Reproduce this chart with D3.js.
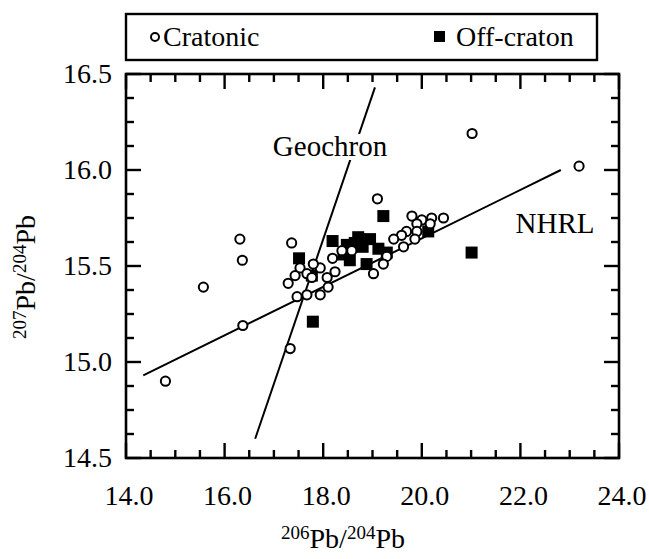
<!DOCTYPE html>
<html>
<head>
<meta charset="utf-8">
<script src="https://cdn.jsdelivr.net/npm/d3@7"></script>
</head>
<body style="margin:0">
<svg id="chart" width="649" height="559" font-family="Liberation Serif"></svg>
<script>
// 206Pb/204Pb vs 207Pb/204Pb for cratonic and off-craton samples
const cratonic206 = [21.02, 23.19, 19.10, 16.31, 16.36, 17.36, 15.57, 16.37, 17.33, 14.80,
  19.80, 20.00, 20.20, 20.44, 19.90, 20.17, 19.90, 19.69, 19.59, 19.43, 19.86, 19.63,
  19.29, 19.22, 19.02, 18.58, 18.38, 18.19, 17.94, 17.80, 17.53, 17.43, 17.67, 17.29,
  18.08, 18.24, 17.47, 17.67, 17.94, 18.10, 17.77];
const cratonic207 = [16.19, 16.02, 15.85, 15.64, 15.53, 15.62, 15.39, 15.19, 15.07, 14.90,
  15.76, 15.74, 15.75, 15.75, 15.72, 15.72, 15.68, 15.68, 15.66, 15.64, 15.64, 15.60,
  15.55, 15.51, 15.46, 15.58, 15.58, 15.54, 15.49, 15.51, 15.49, 15.45, 15.46, 15.41,
  15.44, 15.47, 15.34, 15.35, 15.35, 15.39, 15.44];

const offCraton206 = [17.51, 17.77, 17.79, 18.19, 18.41, 18.48, 18.54, 18.64, 18.71,
  18.80, 18.88, 18.95, 19.12, 19.29, 19.22, 20.13, 21.01];
const offCraton207 = [15.54, 15.45, 15.21, 15.63, 15.56, 15.61, 15.53, 15.62, 15.65,
  15.60, 15.51, 15.64, 15.59, 15.57, 15.76, 15.68, 15.57];

// Reference lines: end points in (206Pb/204Pb, 207Pb/204Pb)
const nhrlLine = [[14.35, 14.93], [22.82, 16.00]];
const geochronLine = [[16.62, 14.60], [19.05, 16.43]];

const xTickLabels = ["14.0", "16.0", "18.0", "20.0", "22.0", "24.0"];
const yTickLabels = ["14.5", "15.0", "15.5", "16.0", "16.5"];
const seriesNames = ["Cratonic", "Off-craton"];

const SERIF = "Liberation Serif";
const svg = d3.select("#chart");
const plotL = 126, plotR = 619, plotT = 74, plotB = 458;

const x = d3.scaleLinear().domain([14, 24]).range([plotL, plotR]);
const y = d3.scaleLinear().domain([14.5, 16.5]).range([plotB, plotT]);

const xMajor = xTickLabels.map(Number);
const yMajor = yTickLabels.map(Number);
const xMinor = d3.range(14.5, 24, 0.5).filter(v => !xMajor.includes(v));
const yMinor = d3.range(14.625, 16.5, 0.125).filter(v => !yMajor.includes(v));

// inward tick marks, mirrored on all four sides
const tickSpecs = [];
xMajor.forEach(v => tickSpecs.push({ axis: "x", v: v, len: 15 }));
xMinor.forEach(v => tickSpecs.push({ axis: "x", v: v, len: 8 }));
yMajor.forEach(v => tickSpecs.push({ axis: "y", v: v, len: 15 }));
yMinor.forEach(v => tickSpecs.push({ axis: "y", v: v, len: 8 }));

const tickG = svg.append("g").attr("stroke", "#000").attr("stroke-width", 2.4);
const xT = tickSpecs.filter(t => t.axis === "x");
const yT = tickSpecs.filter(t => t.axis === "y");
tickG.selectAll("line.xb").data(xT).join("line").attr("class", "xb")
  .attr("x1", t => x(t.v)).attr("x2", t => x(t.v))
  .attr("y1", plotB).attr("y2", t => plotB - t.len);
tickG.selectAll("line.xt").data(xT).join("line").attr("class", "xt")
  .attr("x1", t => x(t.v)).attr("x2", t => x(t.v))
  .attr("y1", plotT).attr("y2", t => plotT + t.len);
tickG.selectAll("line.yl").data(yT).join("line").attr("class", "yl")
  .attr("y1", t => y(t.v)).attr("y2", t => y(t.v))
  .attr("x1", plotL).attr("x2", t => plotL + t.len);
tickG.selectAll("line.yr").data(yT).join("line").attr("class", "yr")
  .attr("y1", t => y(t.v)).attr("y2", t => y(t.v))
  .attr("x1", plotR).attr("x2", t => plotR - t.len);

// tick labels
svg.append("g").selectAll("text").data(xTickLabels).join("text")
  .attr("x", d => x(+d) + 3).attr("y", 505).attr("font-family", SERIF)
  .attr("text-anchor", "middle").attr("font-size", 28).text(d => d);
svg.append("g").selectAll("text").data(yTickLabels).join("text")
  .attr("x", 112).attr("y", d => y(+d) + 9).attr("font-family", SERIF)
  .attr("text-anchor", "end").attr("font-size", 28).text(d => d);

// frame
svg.append("rect").attr("x", plotL).attr("y", plotT)
  .attr("width", plotR - plotL).attr("height", plotB - plotT)
  .attr("fill", "none").attr("stroke", "#000").attr("stroke-width", 2.6);

// reference lines
const pathGen = d3.line().x(d => x(d[0])).y(d => y(d[1]));
svg.append("path").attr("d", pathGen(nhrlLine))
  .attr("fill", "none").attr("stroke", "#000").attr("stroke-width", 2);
svg.append("path").attr("d", pathGen(geochronLine))
  .attr("fill", "none").attr("stroke", "#000").attr("stroke-width", 2);

// line labels; Geochron sits on a white patch that breaks its line
svg.append("rect").attr("x", 272).attr("y", 134).attr("width", 116).attr("height", 26)
  .attr("fill", "#fff");
svg.append("text").attr("x", 330).attr("y", 156).attr("text-anchor", "middle")
  .attr("font-family", SERIF).attr("font-size", 29).text("Geochron");
svg.append("text").attr("x", 555).attr("y", 233).attr("text-anchor", "middle")
  .attr("font-family", SERIF).attr("font-size", 29).text("NHRL");

// off-craton squares
const sq = 12;
svg.append("g").selectAll("rect").data(offCraton206.map((v, i) => [v, offCraton207[i]]))
  .join("rect")
  .attr("x", d => x(d[0]) - sq / 2).attr("y", d => y(d[1]) - sq / 2)
  .attr("width", sq).attr("height", sq).attr("fill", "#000");

// cratonic open circles
svg.append("g").selectAll("circle").data(cratonic206.map((v, i) => [v, cratonic207[i]]))
  .join("circle")
  .attr("cx", d => x(d[0])).attr("cy", d => y(d[1])).attr("r", 4.6)
  .attr("fill", "#fff").attr("stroke", "#000").attr("stroke-width", 2);

// legend
const lg = svg.append("g");
lg.append("rect").attr("x", 126).attr("y", 14).attr("width", 471).attr("height", 46)
  .attr("fill", "#fff").attr("stroke", "#000").attr("stroke-width", 2.4);
lg.append("circle").attr("cx", 155).attr("cy", 37).attr("r", 4)
  .attr("fill", "#fff").attr("stroke", "#000").attr("stroke-width", 2);
lg.append("text").attr("x", 163).attr("y", 46).attr("font-family", SERIF)
  .attr("font-size", 28).text(seriesNames[0]);
lg.append("rect").attr("x", 434).attr("y", 31).attr("width", 11).attr("height", 11).attr("fill", "#000");
lg.append("text").attr("x", 456).attr("y", 46).attr("font-family", SERIF)
  .attr("font-size", 28).text(seriesNames[1]);

// axis titles with superscript mass numbers
const xt = svg.append("text").attr("x", 343).attr("y", 548).attr("font-family", SERIF)
  .attr("text-anchor", "middle").attr("font-size", 28);
xt.append("tspan").attr("font-size", 19).attr("dy", -9).text("206");
xt.append("tspan").attr("dy", 9).text("Pb/");
xt.append("tspan").attr("font-size", 19).attr("dy", -9).text("204");
xt.append("tspan").attr("dy", 9).text("Pb");

const yt = svg.append("text").attr("font-family", SERIF)
  .attr("transform", "translate(35,277) rotate(-90)")
  .attr("text-anchor", "middle").attr("font-size", 28);
yt.append("tspan").attr("font-size", 19).attr("dy", -9).text("207");
yt.append("tspan").attr("dy", 9).text("Pb/");
yt.append("tspan").attr("font-size", 19).attr("dy", -9).text("204");
yt.append("tspan").attr("dy", 9).text("Pb");
</script>
</body>
</html>
